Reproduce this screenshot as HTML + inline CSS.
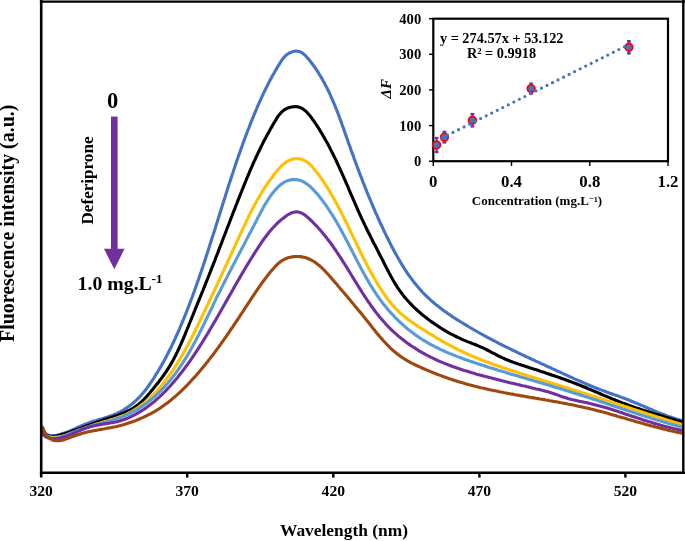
<!DOCTYPE html>
<html><head><meta charset="utf-8"><style>
html,body{margin:0;padding:0;background:#fff;}
body{width:685px;height:541px;overflow:hidden;font-family:"Liberation Serif",serif;}
svg{display:block;will-change:transform;}
</style></head><body>
<svg width="685" height="541" viewBox="0 0 685 541">
<defs><clipPath id="pc"><rect x="40" y="0" width="643" height="473"/></clipPath></defs>
<g fill="none" stroke-width="3.1" stroke-linejoin="round" stroke-linecap="round" clip-path="url(#pc)">
<path d="M41.3,426.5 L42.2,428.9 L43.2,431.0 L44.4,432.6 L45.8,433.8 L47.4,434.7 L49.1,435.2 L50.9,435.5 L52.8,435.6 L54.8,435.5 L56.7,435.2 L58.7,434.7 L60.7,434.2 L62.7,433.6 L64.6,433.0 L66.5,432.3 L68.4,431.6 L70.2,430.8 L72.1,430.0 L73.9,429.2 L75.7,428.4 L77.6,427.5 L79.4,426.7 L81.2,425.9 L83.0,425.1 L84.9,424.3 L86.8,423.6 L88.6,422.9 L90.5,422.3 L92.4,421.6 L94.3,421.0 L96.3,420.5 L98.2,419.9 L100.1,419.3 L102.1,418.8 L104.0,418.2 L105.9,417.6 L107.8,417.0 L109.7,416.3 L111.6,415.6 L113.4,414.9 L115.3,414.1 L117.1,413.3 L118.9,412.4 L120.6,411.5 L122.4,410.5 L124.1,409.5 L125.8,408.4 L127.4,407.3 L129.0,406.2 L130.6,405.0 L132.2,403.8 L133.7,402.5 L135.2,401.2 L136.7,399.8 L138.1,398.4 L139.5,397.0 L140.9,395.5 L142.2,394.0 L143.5,392.5 L144.7,391.0 L146.0,389.4 L147.2,387.8 L148.3,386.2 L149.5,384.5 L150.6,382.9 L151.8,381.2 L152.9,379.5 L154.0,377.8 L155.0,376.1 L156.1,374.4 L157.2,372.7 L158.2,371.0 L159.2,369.3 L160.2,367.6 L161.2,365.9 L162.2,364.1 L163.2,362.4 L164.2,360.6 L165.1,358.9 L166.1,357.1 L167.0,355.3 L167.9,353.6 L168.8,351.8 L169.7,350.0 L170.6,348.2 L171.5,346.4 L172.3,344.6 L173.2,342.8 L174.0,341.0 L174.9,339.2 L175.7,337.4 L176.5,335.5 L177.4,333.7 L178.2,331.9 L179.0,330.1 L179.8,328.2 L180.5,326.4 L181.3,324.5 L182.1,322.7 L182.8,320.9 L183.6,319.0 L184.4,317.2 L185.1,315.3 L185.9,313.5 L186.6,311.6 L187.3,309.7 L188.0,307.9 L188.8,306.0 L189.5,304.1 L190.2,302.3 L190.9,300.4 L191.6,298.5 L192.3,296.7 L193.0,294.8 L193.7,292.9 L194.4,291.0 L195.0,289.2 L195.7,287.3 L196.4,285.4 L197.0,283.5 L197.7,281.6 L198.4,279.7 L199.0,277.8 L199.7,275.9 L200.3,274.1 L201.0,272.2 L201.6,270.3 L202.2,268.4 L202.9,266.5 L203.5,264.6 L204.1,262.7 L204.8,260.8 L205.4,258.9 L206.0,257.0 L206.6,255.1 L207.3,253.2 L207.9,251.3 L208.5,249.4 L209.1,247.4 L209.7,245.5 L210.3,243.6 L210.9,241.7 L211.5,239.8 L212.1,237.9 L212.7,236.0 L213.4,234.1 L214.0,232.2 L214.6,230.3 L215.2,228.4 L215.8,226.4 L216.4,224.5 L217.0,222.6 L217.6,220.7 L218.2,218.8 L218.8,216.9 L219.4,215.0 L220.0,213.1 L220.6,211.1 L221.2,209.2 L221.8,207.3 L222.4,205.4 L223.0,203.5 L223.6,201.6 L224.2,199.7 L224.8,197.8 L225.4,195.9 L226.0,194.0 L226.6,192.0 L227.2,190.1 L227.8,188.2 L228.4,186.3 L229.0,184.4 L229.6,182.5 L230.3,180.6 L230.9,178.7 L231.5,176.8 L232.1,174.9 L232.8,173.0 L233.4,171.1 L234.0,169.2 L234.7,167.3 L235.3,165.4 L235.9,163.5 L236.6,161.6 L237.2,159.7 L237.9,157.8 L238.5,155.9 L239.2,154.1 L239.9,152.2 L240.5,150.3 L241.2,148.4 L241.9,146.5 L242.6,144.6 L243.2,142.8 L243.9,140.9 L244.6,139.0 L245.3,137.1 L246.0,135.3 L246.7,133.4 L247.4,131.5 L248.1,129.7 L248.9,127.8 L249.6,125.9 L250.3,124.1 L251.0,122.2 L251.8,120.4 L252.5,118.5 L253.3,116.7 L254.0,114.8 L254.8,113.0 L255.6,111.1 L256.4,109.3 L257.1,107.4 L257.9,105.6 L258.7,103.8 L259.6,101.9 L260.4,100.1 L261.2,98.3 L262.0,96.5 L262.9,94.7 L263.7,92.9 L264.6,91.1 L265.5,89.3 L266.4,87.5 L267.3,85.7 L268.2,83.9 L269.1,82.1 L270.0,80.3 L271.0,78.6 L271.9,76.8 L272.9,75.0 L273.9,73.3 L274.9,71.5 L275.9,69.8 L276.9,68.1 L277.9,66.3 L279.0,64.6 L280.1,62.9 L281.1,61.2 L282.3,59.5 L283.5,57.9 L284.9,56.4 L286.4,55.0 L288.1,53.8 L290.0,52.7 L292.0,51.9 L294.0,51.3 L296.0,51.1 L297.8,51.2 L299.6,51.6 L301.3,52.4 L302.8,53.4 L304.3,54.6 L305.8,55.9 L307.1,57.4 L308.4,59.0 L309.7,60.6 L311.0,62.2 L312.2,63.8 L313.4,65.4 L314.6,67.1 L315.7,68.7 L316.9,70.4 L318.0,72.1 L319.0,73.8 L320.1,75.5 L321.1,77.2 L322.1,78.9 L323.1,80.7 L324.1,82.4 L325.0,84.2 L325.9,86.0 L326.9,87.7 L327.7,89.5 L328.6,91.3 L329.5,93.1 L330.3,95.0 L331.1,96.8 L331.9,98.6 L332.7,100.4 L333.5,102.3 L334.3,104.1 L335.0,106.0 L335.8,107.8 L336.5,109.7 L337.3,111.6 L338.0,113.4 L338.7,115.3 L339.4,117.2 L340.1,119.1 L340.8,120.9 L341.5,122.8 L342.1,124.7 L342.8,126.6 L343.5,128.5 L344.1,130.4 L344.8,132.3 L345.5,134.2 L346.1,136.1 L346.8,138.0 L347.5,139.8 L348.1,141.7 L348.8,143.6 L349.5,145.5 L350.2,147.4 L350.8,149.3 L351.5,151.2 L352.2,153.1 L352.9,154.9 L353.6,156.8 L354.2,158.7 L354.9,160.6 L355.6,162.5 L356.3,164.3 L357.0,166.2 L357.7,168.1 L358.4,170.0 L359.1,171.8 L359.8,173.7 L360.5,175.6 L361.3,177.4 L362.0,179.3 L362.7,181.2 L363.4,183.0 L364.2,184.9 L364.9,186.7 L365.6,188.6 L366.4,190.5 L367.1,192.3 L367.9,194.2 L368.6,196.0 L369.4,197.9 L370.2,199.7 L370.9,201.5 L371.7,203.4 L372.5,205.2 L373.3,207.1 L374.1,208.9 L374.8,210.7 L375.6,212.6 L376.5,214.4 L377.3,216.2 L378.1,218.0 L378.9,219.9 L379.7,221.7 L380.6,223.5 L381.4,225.3 L382.3,227.1 L383.1,228.9 L384.0,230.8 L384.8,232.6 L385.7,234.4 L386.6,236.2 L387.5,238.0 L388.4,239.8 L389.3,241.6 L390.2,243.4 L391.1,245.2 L392.0,246.9 L393.0,248.7 L393.9,250.5 L394.8,252.3 L395.8,254.0 L396.8,255.8 L397.8,257.5 L398.8,259.3 L399.8,261.0 L400.8,262.7 L401.8,264.4 L402.9,266.1 L403.9,267.8 L405.0,269.5 L406.1,271.2 L407.2,272.9 L408.3,274.5 L409.5,276.1 L410.6,277.7 L411.8,279.3 L413.0,280.9 L414.2,282.5 L415.5,284.1 L416.7,285.6 L418.0,287.1 L419.3,288.6 L420.6,290.1 L421.9,291.6 L423.3,293.0 L424.7,294.4 L426.1,295.8 L427.5,297.2 L429.0,298.6 L430.4,299.9 L431.9,301.2 L433.5,302.5 L435.0,303.8 L436.5,305.1 L438.1,306.3 L439.7,307.6 L441.3,308.8 L442.9,310.0 L444.5,311.2 L446.2,312.3 L447.8,313.5 L449.5,314.6 L451.2,315.8 L452.8,316.9 L454.5,318.0 L456.2,319.1 L457.9,320.2 L459.6,321.2 L461.3,322.3 L463.1,323.4 L464.8,324.4 L466.5,325.4 L468.2,326.5 L470.0,327.5 L471.7,328.5 L473.4,329.5 L475.2,330.5 L476.9,331.5 L478.6,332.5 L480.4,333.5 L482.1,334.4 L483.9,335.4 L485.7,336.3 L487.4,337.3 L489.2,338.2 L490.9,339.2 L492.7,340.1 L494.5,341.0 L496.2,341.9 L498.0,342.9 L499.8,343.8 L501.6,344.7 L503.4,345.6 L505.1,346.5 L506.9,347.3 L508.7,348.2 L510.5,349.1 L512.3,350.0 L514.1,350.8 L515.9,351.7 L517.7,352.6 L519.5,353.4 L521.3,354.3 L523.1,355.2 L524.9,356.0 L526.7,356.9 L528.5,357.7 L530.3,358.5 L532.1,359.4 L533.9,360.2 L535.7,361.1 L537.6,361.9 L539.4,362.7 L541.2,363.6 L543.0,364.4 L544.8,365.2 L546.6,366.1 L548.4,366.9 L550.3,367.7 L552.1,368.6 L553.9,369.4 L555.7,370.2 L557.5,371.1 L559.4,371.9 L561.2,372.7 L563.0,373.6 L564.8,374.4 L566.6,375.2 L568.5,376.1 L570.3,376.9 L572.1,377.7 L573.9,378.6 L575.8,379.4 L577.6,380.2 L579.4,381.0 L581.3,381.8 L583.1,382.6 L584.9,383.4 L586.8,384.2 L588.6,385.0 L590.5,385.8 L592.3,386.5 L594.2,387.3 L596.0,388.0 L597.9,388.7 L599.8,389.4 L601.6,390.1 L603.5,390.8 L605.4,391.5 L607.3,392.2 L609.1,392.9 L611.0,393.5 L612.9,394.2 L614.8,394.9 L616.7,395.5 L618.6,396.2 L620.4,396.9 L622.3,397.6 L624.2,398.3 L626.0,399.0 L627.9,399.7 L629.8,400.5 L631.6,401.2 L633.5,402.0 L635.3,402.7 L637.1,403.5 L639.0,404.3 L640.8,405.1 L642.7,405.9 L644.5,406.7 L646.3,407.5 L648.2,408.3 L650.0,409.0 L651.9,409.8 L653.7,410.6 L655.6,411.4 L657.4,412.1 L659.3,412.9 L661.1,413.6 L663.0,414.3 L664.9,415.0 L666.8,415.7 L668.6,416.4 L670.5,417.0 L672.4,417.7 L674.3,418.3 L676.3,418.9 L678.2,419.4 L680.1,420.0 L682.1,420.5 L684.0,421.0" stroke="#4472C4"/>
<path d="M41.3,427.3 L42.1,429.7 L43.2,431.8 L44.4,433.5 L45.8,434.7 L47.4,435.7 L49.1,436.3 L50.9,436.5 L52.8,436.6 L54.7,436.3 L56.6,436.0 L58.6,435.5 L60.5,434.9 L62.5,434.3 L64.4,433.8 L66.4,433.2 L68.3,432.5 L70.2,431.9 L72.1,431.2 L74.0,430.6 L75.8,429.9 L77.7,429.2 L79.6,428.6 L81.5,427.9 L83.3,427.2 L85.2,426.5 L87.1,425.8 L88.9,425.1 L90.8,424.4 L92.7,423.8 L94.6,423.1 L96.4,422.4 L98.3,421.8 L100.2,421.1 L102.1,420.5 L104.1,419.8 L106.0,419.2 L107.9,418.6 L109.8,418.0 L111.7,417.3 L113.6,416.7 L115.5,416.0 L117.4,415.4 L119.3,414.7 L121.2,413.9 L123.0,413.2 L124.8,412.4 L126.6,411.6 L128.4,410.7 L130.2,409.8 L131.9,408.8 L133.6,407.8 L135.2,406.7 L136.8,405.6 L138.4,404.4 L139.9,403.1 L141.4,401.8 L142.9,400.4 L144.3,399.0 L145.7,397.5 L147.1,396.0 L148.4,394.4 L149.7,392.9 L151.1,391.3 L152.4,389.7 L153.6,388.2 L154.9,386.6 L156.2,385.0 L157.4,383.5 L158.7,381.9 L159.9,380.3 L161.1,378.7 L162.3,377.1 L163.4,375.5 L164.6,373.9 L165.7,372.3 L166.8,370.6 L167.9,369.0 L168.9,367.3 L170.0,365.6 L171.0,363.9 L171.9,362.2 L172.9,360.5 L173.9,358.7 L174.8,356.9 L175.7,355.2 L176.6,353.4 L177.5,351.6 L178.3,349.8 L179.2,348.0 L180.0,346.2 L180.8,344.3 L181.6,342.5 L182.4,340.7 L183.2,338.8 L184.0,337.0 L184.8,335.1 L185.5,333.2 L186.3,331.4 L187.1,329.5 L187.8,327.6 L188.6,325.8 L189.3,323.9 L190.1,322.0 L190.8,320.2 L191.6,318.3 L192.3,316.5 L193.1,314.6 L193.8,312.7 L194.6,310.9 L195.3,309.0 L196.1,307.2 L196.8,305.3 L197.6,303.5 L198.3,301.6 L199.1,299.8 L199.9,297.9 L200.6,296.1 L201.4,294.2 L202.1,292.4 L202.9,290.5 L203.6,288.7 L204.4,286.8 L205.1,284.9 L205.8,283.1 L206.6,281.2 L207.3,279.4 L208.1,277.5 L208.8,275.7 L209.5,273.8 L210.3,271.9 L211.0,270.1 L211.7,268.2 L212.5,266.4 L213.2,264.5 L213.9,262.6 L214.7,260.8 L215.4,258.9 L216.1,257.0 L216.8,255.2 L217.6,253.3 L218.3,251.4 L219.0,249.6 L219.7,247.7 L220.4,245.8 L221.2,243.9 L221.9,242.1 L222.6,240.2 L223.3,238.3 L224.0,236.5 L224.8,234.6 L225.5,232.7 L226.2,230.8 L226.9,229.0 L227.6,227.1 L228.4,225.2 L229.1,223.4 L229.8,221.5 L230.5,219.6 L231.2,217.7 L232.0,215.9 L232.7,214.0 L233.4,212.1 L234.1,210.3 L234.9,208.4 L235.6,206.5 L236.3,204.7 L237.1,202.8 L237.8,200.9 L238.5,199.1 L239.3,197.2 L240.0,195.4 L240.7,193.5 L241.5,191.6 L242.2,189.8 L243.0,187.9 L243.7,186.1 L244.5,184.2 L245.2,182.4 L246.0,180.5 L246.7,178.7 L247.5,176.8 L248.3,175.0 L249.1,173.2 L249.8,171.3 L250.6,169.5 L251.4,167.7 L252.2,165.8 L253.0,164.0 L253.8,162.2 L254.7,160.3 L255.5,158.5 L256.3,156.7 L257.2,154.9 L258.0,153.1 L258.9,151.3 L259.8,149.5 L260.6,147.7 L261.5,145.9 L262.4,144.1 L263.3,142.3 L264.2,140.5 L265.2,138.7 L266.1,137.0 L267.0,135.2 L268.0,133.4 L269.0,131.7 L270.0,129.9 L271.0,128.1 L272.0,126.4 L273.0,124.6 L274.0,122.9 L275.1,121.2 L276.1,119.4 L277.2,117.7 L278.3,116.0 L279.5,114.4 L280.8,112.9 L282.2,111.5 L283.8,110.2 L285.5,109.1 L287.4,108.2 L289.4,107.5 L291.5,107.0 L293.6,106.7 L295.6,106.6 L297.5,106.8 L299.4,107.3 L301.1,107.9 L302.7,108.8 L304.2,109.9 L305.7,111.1 L307.1,112.4 L308.4,113.9 L309.7,115.4 L310.9,117.0 L312.1,118.7 L313.3,120.3 L314.5,122.0 L315.6,123.7 L316.8,125.4 L317.9,127.1 L319.0,128.8 L320.0,130.6 L321.1,132.3 L322.1,134.0 L323.1,135.8 L324.2,137.5 L325.1,139.3 L326.1,141.0 L327.1,142.8 L328.1,144.6 L329.0,146.3 L329.9,148.1 L330.8,149.9 L331.8,151.7 L332.7,153.5 L333.5,155.3 L334.4,157.1 L335.3,158.9 L336.2,160.7 L337.0,162.5 L337.8,164.3 L338.7,166.1 L339.5,167.9 L340.3,169.8 L341.2,171.6 L342.0,173.4 L342.8,175.2 L343.6,177.1 L344.4,178.9 L345.2,180.7 L346.0,182.6 L346.8,184.4 L347.6,186.2 L348.4,188.1 L349.1,189.9 L349.9,191.7 L350.7,193.6 L351.5,195.4 L352.3,197.2 L353.1,199.1 L353.9,200.9 L354.7,202.7 L355.5,204.6 L356.3,206.4 L357.1,208.2 L357.9,210.1 L358.7,211.9 L359.5,213.7 L360.4,215.5 L361.2,217.3 L362.0,219.1 L362.9,220.9 L363.8,222.8 L364.6,224.6 L365.5,226.4 L366.4,228.2 L367.2,230.0 L368.1,231.7 L369.0,233.5 L369.9,235.3 L370.8,237.1 L371.7,238.9 L372.6,240.7 L373.5,242.5 L374.4,244.3 L375.4,246.1 L376.3,247.8 L377.2,249.6 L378.1,251.4 L379.0,253.2 L379.9,255.0 L380.8,256.8 L381.8,258.6 L382.7,260.4 L383.6,262.2 L384.5,264.0 L385.4,265.8 L386.3,267.6 L387.2,269.4 L388.2,271.1 L389.1,272.9 L390.1,274.7 L391.0,276.5 L392.0,278.2 L393.0,280.0 L394.0,281.7 L395.0,283.4 L396.1,285.1 L397.1,286.8 L398.2,288.5 L399.4,290.1 L400.5,291.7 L401.7,293.3 L402.9,294.9 L404.1,296.5 L405.4,298.0 L406.7,299.5 L408.0,301.0 L409.4,302.5 L410.7,303.9 L412.1,305.4 L413.5,306.8 L415.0,308.2 L416.4,309.5 L417.9,310.9 L419.4,312.2 L420.9,313.5 L422.4,314.8 L424.0,316.1 L425.6,317.3 L427.2,318.6 L428.8,319.8 L430.4,321.0 L432.0,322.1 L433.7,323.3 L435.3,324.4 L437.0,325.5 L438.7,326.6 L440.4,327.7 L442.1,328.8 L443.8,329.8 L445.5,330.8 L447.2,331.8 L449.0,332.8 L450.7,333.8 L452.5,334.7 L454.2,335.6 L456.0,336.5 L457.8,337.4 L459.6,338.2 L461.4,339.1 L463.2,339.9 L465.1,340.6 L466.9,341.4 L468.8,342.1 L470.7,342.8 L472.5,343.6 L474.4,344.3 L476.3,345.0 L478.1,345.8 L480.0,346.6 L481.8,347.4 L483.6,348.2 L485.4,349.1 L487.2,350.0 L489.0,350.9 L490.7,351.9 L492.5,352.8 L494.3,353.7 L496.1,354.7 L497.8,355.6 L499.6,356.5 L501.4,357.4 L503.2,358.2 L505.1,359.0 L506.9,359.8 L508.7,360.5 L510.6,361.3 L512.5,362.0 L514.3,362.6 L516.2,363.3 L518.1,363.9 L520.0,364.6 L521.9,365.2 L523.8,365.8 L525.7,366.4 L527.6,367.0 L529.5,367.7 L531.4,368.3 L533.3,368.9 L535.2,369.5 L537.1,370.1 L539.0,370.7 L540.9,371.4 L542.8,372.0 L544.7,372.6 L546.6,373.3 L548.5,373.9 L550.4,374.5 L552.3,375.2 L554.2,375.8 L556.1,376.5 L558.0,377.1 L559.9,377.8 L561.8,378.5 L563.7,379.1 L565.5,379.8 L567.4,380.5 L569.3,381.2 L571.2,381.9 L573.0,382.6 L574.9,383.3 L576.8,384.0 L578.6,384.8 L580.5,385.5 L582.4,386.3 L584.2,387.0 L586.1,387.8 L587.9,388.6 L589.7,389.3 L591.6,390.1 L593.4,390.9 L595.3,391.7 L597.1,392.4 L599.0,393.2 L600.8,394.0 L602.6,394.8 L604.5,395.6 L606.3,396.3 L608.2,397.1 L610.0,397.9 L611.9,398.7 L613.7,399.4 L615.6,400.2 L617.4,400.9 L619.3,401.7 L621.2,402.4 L623.0,403.1 L624.9,403.8 L626.8,404.5 L628.6,405.2 L630.5,405.9 L632.4,406.6 L634.3,407.2 L636.2,407.9 L638.1,408.5 L640.0,409.1 L641.9,409.8 L643.8,410.4 L645.7,411.0 L647.6,411.6 L649.5,412.2 L651.5,412.8 L653.4,413.4 L655.3,414.0 L657.2,414.5 L659.1,415.1 L661.0,415.7 L663.0,416.3 L664.9,416.9 L666.8,417.4 L668.7,418.0 L670.6,418.6 L672.5,419.2 L674.5,419.8 L676.4,420.4 L678.3,421.0 L680.2,421.6 L682.1,422.2 L684.0,422.8" stroke="#000000"/>
<path d="M41.3,428.0 L41.9,430.5 L42.9,432.6 L44.2,434.1 L45.7,435.3 L47.4,436.1 L49.2,436.7 L51.0,437.0 L53.0,437.2 L54.9,437.2 L56.8,437.1 L58.7,436.9 L60.6,436.6 L62.5,436.2 L64.4,435.8 L66.2,435.3 L68.1,434.7 L70.0,434.0 L71.9,433.4 L73.8,432.6 L75.6,431.9 L77.5,431.1 L79.4,430.3 L81.3,429.6 L83.2,428.8 L85.1,428.0 L87.0,427.3 L88.9,426.6 L90.8,425.9 L92.8,425.3 L94.7,424.7 L96.6,424.1 L98.5,423.5 L100.5,422.9 L102.4,422.3 L104.3,421.8 L106.3,421.2 L108.2,420.7 L110.1,420.1 L112.0,419.5 L113.9,418.9 L115.8,418.3 L117.6,417.7 L119.5,417.0 L121.3,416.3 L123.2,415.6 L125.0,414.9 L126.8,414.1 L128.5,413.2 L130.3,412.3 L132.0,411.4 L133.7,410.4 L135.4,409.4 L137.0,408.3 L138.7,407.2 L140.3,406.0 L141.9,404.8 L143.5,403.6 L145.0,402.3 L146.5,401.0 L148.1,399.7 L149.5,398.3 L151.0,396.9 L152.5,395.5 L153.9,394.1 L155.3,392.6 L156.7,391.1 L158.0,389.6 L159.4,388.0 L160.7,386.5 L162.0,384.9 L163.3,383.3 L164.5,381.7 L165.8,380.1 L167.0,378.5 L168.2,376.9 L169.4,375.3 L170.5,373.6 L171.7,372.0 L172.8,370.3 L173.9,368.7 L175.0,367.0 L176.1,365.3 L177.2,363.6 L178.2,361.9 L179.2,360.2 L180.3,358.5 L181.3,356.8 L182.3,355.1 L183.3,353.4 L184.2,351.6 L185.2,349.9 L186.1,348.2 L187.1,346.4 L188.0,344.7 L188.9,342.9 L189.9,341.2 L190.8,339.4 L191.7,337.6 L192.6,335.9 L193.5,334.1 L194.4,332.3 L195.2,330.5 L196.1,328.8 L197.0,327.0 L197.9,325.2 L198.7,323.4 L199.6,321.6 L200.5,319.8 L201.3,318.0 L202.2,316.2 L203.0,314.4 L203.9,312.6 L204.8,310.8 L205.6,309.0 L206.5,307.2 L207.3,305.4 L208.2,303.6 L209.1,301.8 L209.9,300.0 L210.8,298.2 L211.6,296.3 L212.5,294.5 L213.3,292.7 L214.2,290.9 L215.0,289.1 L215.9,287.3 L216.7,285.4 L217.6,283.6 L218.4,281.8 L219.3,280.0 L220.1,278.2 L221.0,276.3 L221.8,274.5 L222.6,272.7 L223.5,270.9 L224.3,269.0 L225.2,267.2 L226.0,265.4 L226.9,263.6 L227.7,261.7 L228.5,259.9 L229.4,258.1 L230.2,256.3 L231.1,254.4 L231.9,252.6 L232.7,250.8 L233.6,249.0 L234.4,247.1 L235.2,245.3 L236.1,243.5 L236.9,241.7 L237.7,239.9 L238.6,238.0 L239.4,236.2 L240.2,234.4 L241.1,232.6 L241.9,230.8 L242.7,228.9 L243.6,227.1 L244.4,225.3 L245.3,223.5 L246.1,221.7 L247.0,219.9 L247.9,218.1 L248.7,216.3 L249.6,214.5 L250.5,212.8 L251.4,211.0 L252.3,209.2 L253.3,207.5 L254.2,205.7 L255.1,203.9 L256.1,202.2 L257.0,200.4 L258.0,198.7 L259.0,197.0 L260.0,195.3 L261.1,193.6 L262.1,191.9 L263.2,190.2 L264.2,188.5 L265.3,186.8 L266.4,185.1 L267.6,183.5 L268.7,181.8 L269.9,180.2 L271.1,178.6 L272.3,177.0 L273.5,175.3 L274.8,173.8 L276.0,172.2 L277.3,170.6 L278.7,169.0 L280.0,167.5 L281.4,166.1 L282.9,164.7 L284.4,163.4 L286.0,162.2 L287.6,161.2 L289.3,160.3 L291.2,159.6 L293.1,159.1 L295.1,158.8 L297.1,158.7 L299.1,158.8 L301.1,159.2 L303.0,159.8 L304.8,160.6 L306.5,161.5 L308.1,162.7 L309.6,164.0 L311.0,165.4 L312.4,166.9 L313.7,168.4 L315.0,170.0 L316.2,171.6 L317.5,173.2 L318.7,174.8 L319.9,176.4 L321.0,178.1 L322.2,179.7 L323.3,181.4 L324.4,183.1 L325.5,184.7 L326.6,186.4 L327.7,188.1 L328.7,189.8 L329.7,191.6 L330.8,193.3 L331.8,195.0 L332.8,196.7 L333.7,198.5 L334.7,200.2 L335.7,202.0 L336.6,203.7 L337.6,205.5 L338.5,207.3 L339.4,209.0 L340.4,210.8 L341.3,212.6 L342.2,214.4 L343.1,216.2 L344.0,217.9 L344.9,219.7 L345.7,221.5 L346.6,223.3 L347.5,225.1 L348.4,226.9 L349.2,228.7 L350.1,230.5 L351.0,232.3 L351.8,234.1 L352.7,235.9 L353.6,237.7 L354.4,239.5 L355.3,241.3 L356.2,243.1 L357.0,244.9 L357.9,246.7 L358.8,248.5 L359.7,250.3 L360.5,252.1 L361.4,253.9 L362.3,255.7 L363.2,257.5 L364.1,259.2 L365.0,261.0 L365.9,262.8 L366.9,264.6 L367.8,266.4 L368.7,268.1 L369.7,269.9 L370.6,271.7 L371.6,273.4 L372.6,275.2 L373.5,276.9 L374.5,278.7 L375.5,280.4 L376.6,282.2 L377.6,283.9 L378.6,285.6 L379.7,287.3 L380.8,289.0 L381.9,290.7 L383.0,292.4 L384.1,294.1 L385.2,295.7 L386.4,297.3 L387.6,299.0 L388.8,300.5 L390.1,302.1 L391.3,303.6 L392.6,305.2 L393.9,306.6 L395.3,308.1 L396.7,309.5 L398.1,310.9 L399.5,312.3 L401.0,313.6 L402.5,314.9 L404.0,316.2 L405.5,317.5 L407.1,318.7 L408.7,319.9 L410.3,321.0 L412.0,322.2 L413.6,323.3 L415.3,324.5 L417.0,325.6 L418.6,326.7 L420.3,327.8 L422.0,328.8 L423.7,329.9 L425.4,331.0 L427.1,332.1 L428.8,333.1 L430.5,334.2 L432.3,335.2 L434.0,336.2 L435.7,337.3 L437.4,338.3 L439.1,339.3 L440.9,340.3 L442.6,341.3 L444.4,342.3 L446.1,343.3 L447.9,344.2 L449.6,345.2 L451.4,346.1 L453.1,347.1 L454.9,348.0 L456.7,348.9 L458.5,349.8 L460.3,350.6 L462.1,351.5 L463.9,352.4 L465.7,353.2 L467.5,354.0 L469.3,354.8 L471.2,355.6 L473.0,356.4 L474.9,357.2 L476.7,357.9 L478.6,358.7 L480.4,359.4 L482.3,360.2 L484.1,360.9 L486.0,361.6 L487.9,362.3 L489.8,363.0 L491.6,363.7 L493.5,364.4 L495.4,365.0 L497.3,365.7 L499.2,366.4 L501.1,367.0 L503.0,367.7 L504.9,368.3 L506.8,368.9 L508.7,369.6 L510.6,370.2 L512.5,370.8 L514.4,371.4 L516.3,372.0 L518.2,372.6 L520.1,373.2 L522.0,373.9 L523.9,374.5 L525.8,375.1 L527.7,375.7 L529.7,376.3 L531.6,376.9 L533.5,377.4 L535.4,378.0 L537.3,378.6 L539.2,379.2 L541.1,379.8 L543.0,380.4 L544.9,381.0 L546.8,381.6 L548.7,382.2 L550.6,382.8 L552.5,383.3 L554.4,383.9 L556.3,384.5 L558.3,385.1 L560.2,385.7 L562.1,386.3 L564.0,386.9 L565.9,387.5 L567.8,388.1 L569.7,388.7 L571.6,389.3 L573.5,389.9 L575.4,390.5 L577.3,391.1 L579.2,391.7 L581.1,392.3 L583.0,392.9 L584.9,393.5 L586.8,394.1 L588.7,394.7 L590.6,395.3 L592.5,395.9 L594.4,396.5 L596.3,397.2 L598.2,397.8 L600.1,398.4 L602.0,399.0 L603.9,399.6 L605.8,400.2 L607.7,400.9 L609.6,401.5 L611.5,402.1 L613.4,402.7 L615.3,403.4 L617.2,404.0 L619.2,404.6 L621.1,405.2 L623.0,405.8 L624.9,406.5 L626.8,407.1 L628.7,407.7 L630.6,408.3 L632.5,408.9 L634.4,409.6 L636.3,410.2 L638.2,410.8 L640.1,411.4 L642.0,412.0 L643.9,412.7 L645.8,413.3 L647.7,413.9 L649.6,414.5 L651.5,415.1 L653.4,415.7 L655.3,416.3 L657.2,416.9 L659.2,417.5 L661.1,418.1 L663.0,418.7 L664.9,419.3 L666.8,419.9 L668.7,420.5 L670.6,421.1 L672.5,421.7 L674.4,422.3 L676.4,422.8 L678.3,423.4 L680.2,424.0 L682.1,424.6 L684.0,425.1" stroke="#FFC000"/>
<path d="M41.3,428.5 L42.0,430.6 L43.0,432.4 L44.2,434.0 L45.7,435.4 L47.3,436.5 L49.1,437.4 L51.0,438.0 L52.9,438.3 L54.8,438.3 L56.7,438.1 L58.6,437.7 L60.6,437.2 L62.5,436.5 L64.4,435.7 L66.3,434.9 L68.2,434.1 L70.1,433.3 L72.0,432.6 L73.9,431.9 L75.7,431.2 L77.6,430.5 L79.5,429.8 L81.4,429.2 L83.2,428.6 L85.1,428.0 L87.0,427.4 L88.9,426.8 L90.8,426.2 L92.7,425.7 L94.6,425.2 L96.6,424.6 L98.5,424.1 L100.4,423.6 L102.4,423.0 L104.3,422.5 L106.2,422.0 L108.2,421.4 L110.1,420.8 L112.0,420.3 L113.9,419.7 L115.8,419.1 L117.7,418.4 L119.6,417.8 L121.4,417.1 L123.3,416.4 L125.1,415.6 L127.0,414.8 L128.8,414.0 L130.6,413.1 L132.3,412.2 L134.1,411.3 L135.8,410.3 L137.6,409.3 L139.3,408.3 L140.9,407.2 L142.6,406.1 L144.2,404.9 L145.9,403.8 L147.5,402.5 L149.0,401.3 L150.6,400.0 L152.1,398.7 L153.7,397.4 L155.2,396.1 L156.7,394.7 L158.1,393.3 L159.6,391.9 L161.0,390.5 L162.4,389.0 L163.8,387.6 L165.1,386.1 L166.5,384.6 L167.8,383.0 L169.1,381.5 L170.4,380.0 L171.6,378.4 L172.9,376.8 L174.1,375.2 L175.3,373.6 L176.5,372.0 L177.6,370.4 L178.8,368.8 L179.9,367.1 L181.0,365.5 L182.1,363.8 L183.2,362.1 L184.3,360.5 L185.3,358.8 L186.4,357.1 L187.4,355.4 L188.4,353.7 L189.4,351.9 L190.4,350.2 L191.4,348.5 L192.3,346.7 L193.3,345.0 L194.2,343.2 L195.2,341.5 L196.1,339.7 L197.0,337.9 L198.0,336.1 L198.9,334.4 L199.8,332.6 L200.7,330.8 L201.5,329.0 L202.4,327.2 L203.3,325.4 L204.2,323.6 L205.1,321.8 L205.9,320.0 L206.8,318.2 L207.7,316.4 L208.5,314.6 L209.4,312.8 L210.3,311.0 L211.1,309.2 L212.0,307.4 L212.9,305.5 L213.7,303.7 L214.6,301.9 L215.5,300.1 L216.3,298.3 L217.2,296.5 L218.1,294.7 L219.0,292.9 L219.9,291.2 L220.8,289.4 L221.7,287.6 L222.6,285.8 L223.5,284.0 L224.4,282.2 L225.3,280.4 L226.2,278.7 L227.1,276.9 L228.0,275.1 L228.9,273.3 L229.9,271.5 L230.8,269.8 L231.7,268.0 L232.6,266.2 L233.5,264.4 L234.5,262.7 L235.4,260.9 L236.3,259.1 L237.3,257.3 L238.2,255.6 L239.1,253.8 L240.0,252.0 L241.0,250.3 L241.9,248.5 L242.8,246.7 L243.8,244.9 L244.7,243.2 L245.6,241.4 L246.5,239.6 L247.5,237.8 L248.4,236.1 L249.3,234.3 L250.3,232.5 L251.2,230.7 L252.1,229.0 L253.0,227.2 L254.0,225.4 L254.9,223.6 L255.8,221.9 L256.7,220.1 L257.6,218.3 L258.5,216.5 L259.5,214.7 L260.4,213.0 L261.3,211.2 L262.3,209.4 L263.2,207.7 L264.2,205.9 L265.2,204.2 L266.3,202.5 L267.3,200.8 L268.4,199.1 L269.5,197.5 L270.6,195.8 L271.8,194.2 L273.1,192.6 L274.3,191.1 L275.6,189.6 L277.0,188.1 L278.4,186.7 L279.9,185.3 L281.5,184.1 L283.1,182.9 L284.8,181.9 L286.6,181.1 L288.5,180.4 L290.4,179.9 L292.4,179.6 L294.4,179.5 L296.4,179.6 L298.4,179.9 L300.3,180.4 L302.1,181.1 L303.9,182.0 L305.6,183.1 L307.3,184.2 L308.9,185.4 L310.4,186.8 L311.8,188.1 L313.2,189.6 L314.6,191.1 L316.0,192.6 L317.3,194.1 L318.6,195.6 L319.8,197.2 L321.1,198.8 L322.3,200.4 L323.5,202.0 L324.7,203.6 L325.9,205.2 L327.0,206.8 L328.1,208.5 L329.2,210.2 L330.3,211.8 L331.4,213.5 L332.5,215.2 L333.5,216.9 L334.5,218.6 L335.6,220.3 L336.6,222.0 L337.6,223.7 L338.5,225.5 L339.5,227.2 L340.5,228.9 L341.4,230.7 L342.4,232.4 L343.3,234.2 L344.3,236.0 L345.2,237.7 L346.1,239.5 L347.0,241.2 L348.0,243.0 L348.9,244.8 L349.8,246.6 L350.7,248.4 L351.6,250.1 L352.5,251.9 L353.4,253.7 L354.4,255.5 L355.3,257.3 L356.2,259.1 L357.1,260.8 L358.0,262.6 L359.0,264.4 L359.9,266.2 L360.9,268.0 L361.8,269.7 L362.8,271.5 L363.7,273.3 L364.7,275.0 L365.7,276.8 L366.7,278.6 L367.7,280.3 L368.7,282.0 L369.7,283.8 L370.8,285.5 L371.8,287.2 L372.9,288.9 L374.0,290.6 L375.1,292.3 L376.2,293.9 L377.3,295.6 L378.5,297.2 L379.6,298.9 L380.8,300.5 L382.0,302.1 L383.2,303.7 L384.5,305.2 L385.7,306.8 L387.0,308.3 L388.3,309.9 L389.6,311.4 L390.9,312.9 L392.3,314.3 L393.7,315.8 L395.0,317.2 L396.4,318.7 L397.9,320.1 L399.3,321.5 L400.7,322.8 L402.2,324.2 L403.7,325.5 L405.2,326.8 L406.7,328.1 L408.2,329.4 L409.8,330.6 L411.4,331.8 L413.0,333.0 L414.6,334.2 L416.2,335.4 L417.8,336.5 L419.4,337.6 L421.1,338.7 L422.8,339.8 L424.5,340.8 L426.2,341.8 L427.9,342.8 L429.6,343.8 L431.4,344.8 L433.2,345.7 L434.9,346.6 L436.7,347.5 L438.5,348.4 L440.3,349.3 L442.1,350.1 L444.0,351.0 L445.8,351.8 L447.6,352.6 L449.5,353.4 L451.4,354.1 L453.2,354.9 L455.1,355.6 L457.0,356.4 L458.8,357.1 L460.7,357.8 L462.6,358.5 L464.5,359.2 L466.4,359.9 L468.3,360.5 L470.2,361.2 L472.1,361.8 L474.0,362.5 L475.9,363.1 L477.9,363.8 L479.8,364.4 L481.7,365.0 L483.6,365.6 L485.5,366.2 L487.4,366.9 L489.3,367.5 L491.2,368.1 L493.1,368.6 L495.0,369.2 L496.9,369.8 L498.9,370.4 L500.8,371.0 L502.7,371.6 L504.6,372.1 L506.5,372.7 L508.4,373.3 L510.3,373.9 L512.2,374.4 L514.1,375.0 L516.1,375.5 L518.0,376.1 L519.9,376.7 L521.8,377.2 L523.7,377.8 L525.6,378.3 L527.5,378.9 L529.4,379.5 L531.4,380.0 L533.3,380.6 L535.2,381.2 L537.1,381.7 L539.0,382.3 L540.9,382.8 L542.8,383.4 L544.8,384.0 L546.7,384.6 L548.6,385.1 L550.5,385.7 L552.4,386.3 L554.3,386.9 L556.2,387.4 L558.1,388.0 L560.1,388.6 L562.0,389.2 L563.9,389.8 L565.8,390.4 L567.7,391.0 L569.6,391.6 L571.5,392.2 L573.4,392.8 L575.3,393.4 L577.3,394.0 L579.2,394.6 L581.1,395.2 L583.0,395.8 L584.9,396.4 L586.8,397.0 L588.7,397.6 L590.6,398.3 L592.5,398.9 L594.4,399.5 L596.3,400.1 L598.2,400.8 L600.1,401.4 L602.0,402.0 L603.9,402.6 L605.8,403.3 L607.7,403.9 L609.6,404.5 L611.4,405.2 L613.3,405.8 L615.2,406.4 L617.1,407.1 L619.0,407.7 L620.9,408.3 L622.8,409.0 L624.7,409.6 L626.6,410.2 L628.5,410.9 L630.4,411.5 L632.3,412.1 L634.2,412.7 L636.1,413.4 L638.0,414.0 L639.9,414.6 L641.8,415.2 L643.7,415.8 L645.6,416.4 L647.5,417.0 L649.4,417.6 L651.3,418.2 L653.2,418.8 L655.1,419.4 L657.1,420.0 L659.0,420.6 L660.9,421.1 L662.8,421.7 L664.7,422.3 L666.7,422.8 L668.6,423.4 L670.5,423.9 L672.4,424.5 L674.4,425.0 L676.3,425.6 L678.2,426.1 L680.2,426.6 L682.1,427.1 L684.1,427.6" stroke="#5B9BD5"/>
<path d="M41.1,429.5 L41.7,431.9 L42.7,433.8 L44.0,435.4 L45.4,436.6 L47.0,437.5 L48.8,438.1 L50.6,438.5 L52.5,438.7 L54.4,438.7 L56.3,438.6 L58.2,438.4 L60.1,438.0 L62.0,437.5 L63.9,437.0 L65.8,436.4 L67.7,435.7 L69.6,434.9 L71.5,434.1 L73.4,433.3 L75.4,432.5 L77.3,431.7 L79.2,430.8 L81.1,430.0 L83.0,429.2 L85.0,428.5 L86.9,427.8 L88.8,427.2 L90.8,426.6 L92.7,426.1 L94.7,425.7 L96.6,425.3 L98.6,424.9 L100.5,424.6 L102.5,424.2 L104.4,423.9 L106.3,423.6 L108.3,423.3 L110.2,423.0 L112.2,422.6 L114.1,422.3 L116.0,421.9 L117.9,421.4 L119.8,420.9 L121.7,420.3 L123.6,419.7 L125.5,419.0 L127.4,418.3 L129.2,417.5 L131.1,416.6 L132.9,415.7 L134.7,414.8 L136.4,413.9 L138.2,412.9 L139.9,411.8 L141.6,410.8 L143.3,409.7 L145.0,408.6 L146.6,407.4 L148.2,406.3 L149.8,405.1 L151.4,403.8 L153.0,402.6 L154.5,401.3 L156.0,400.0 L157.5,398.7 L159.0,397.4 L160.4,396.0 L161.9,394.6 L163.3,393.2 L164.7,391.8 L166.1,390.4 L167.5,388.9 L168.8,387.5 L170.2,386.0 L171.5,384.5 L172.8,383.0 L174.1,381.5 L175.4,379.9 L176.7,378.4 L178.0,376.9 L179.2,375.3 L180.5,373.7 L181.7,372.2 L182.9,370.6 L184.1,369.0 L185.3,367.4 L186.5,365.8 L187.7,364.2 L188.8,362.5 L190.0,360.9 L191.1,359.3 L192.3,357.6 L193.4,356.0 L194.5,354.3 L195.6,352.6 L196.7,351.0 L197.8,349.3 L198.9,347.6 L200.0,345.9 L201.1,344.2 L202.1,342.5 L203.2,340.8 L204.2,339.1 L205.3,337.4 L206.3,335.7 L207.4,334.0 L208.4,332.3 L209.4,330.5 L210.4,328.8 L211.4,327.1 L212.5,325.4 L213.5,323.6 L214.5,321.9 L215.5,320.2 L216.5,318.4 L217.5,316.7 L218.5,315.0 L219.5,313.2 L220.5,311.5 L221.4,309.8 L222.4,308.0 L223.4,306.3 L224.4,304.6 L225.4,302.8 L226.4,301.1 L227.4,299.4 L228.3,297.6 L229.3,295.9 L230.3,294.2 L231.3,292.4 L232.3,290.7 L233.3,289.0 L234.2,287.2 L235.2,285.5 L236.2,283.8 L237.2,282.0 L238.2,280.3 L239.2,278.6 L240.2,276.9 L241.2,275.1 L242.2,273.4 L243.3,271.7 L244.3,270.0 L245.3,268.3 L246.3,266.5 L247.3,264.8 L248.4,263.1 L249.4,261.4 L250.5,259.7 L251.5,258.0 L252.6,256.3 L253.6,254.6 L254.7,252.9 L255.8,251.2 L256.9,249.5 L258.0,247.8 L259.1,246.2 L260.2,244.5 L261.3,242.8 L262.4,241.2 L263.6,239.5 L264.8,237.9 L266.0,236.3 L267.2,234.7 L268.4,233.1 L269.7,231.5 L271.0,230.0 L272.3,228.5 L273.7,227.0 L275.1,225.5 L276.5,224.1 L277.9,222.7 L279.4,221.3 L281.0,220.0 L282.5,218.7 L284.2,217.4 L285.8,216.2 L287.5,215.0 L289.3,214.0 L291.1,213.1 L292.9,212.4 L294.7,212.0 L296.5,211.9 L298.3,212.0 L300.0,212.5 L301.7,213.1 L303.3,214.0 L304.9,215.1 L306.5,216.3 L308.0,217.6 L309.5,219.0 L311.0,220.4 L312.5,221.9 L313.9,223.3 L315.4,224.8 L316.8,226.2 L318.1,227.7 L319.5,229.2 L320.8,230.8 L322.1,232.3 L323.4,233.9 L324.7,235.4 L326.0,237.0 L327.2,238.6 L328.4,240.2 L329.6,241.8 L330.8,243.4 L332.0,245.0 L333.2,246.7 L334.3,248.3 L335.5,250.0 L336.6,251.7 L337.7,253.3 L338.8,255.0 L339.9,256.7 L341.0,258.4 L342.1,260.1 L343.2,261.8 L344.3,263.5 L345.3,265.2 L346.4,266.9 L347.5,268.6 L348.5,270.3 L349.6,272.0 L350.6,273.7 L351.7,275.5 L352.7,277.2 L353.8,278.9 L354.8,280.6 L355.9,282.3 L356.9,284.0 L358.0,285.7 L359.0,287.4 L360.1,289.1 L361.2,290.8 L362.2,292.5 L363.3,294.2 L364.4,295.8 L365.5,297.5 L366.6,299.2 L367.7,300.8 L368.8,302.4 L370.0,304.1 L371.1,305.7 L372.3,307.3 L373.5,308.9 L374.6,310.5 L375.8,312.1 L377.0,313.6 L378.3,315.2 L379.5,316.7 L380.8,318.3 L382.1,319.8 L383.4,321.3 L384.7,322.7 L386.0,324.2 L387.4,325.7 L388.7,327.1 L390.1,328.5 L391.6,329.9 L393.0,331.3 L394.5,332.6 L396.0,333.9 L397.5,335.3 L399.0,336.6 L400.5,337.8 L402.1,339.1 L403.7,340.3 L405.3,341.5 L406.9,342.7 L408.6,343.9 L410.2,345.1 L411.9,346.2 L413.6,347.3 L415.3,348.4 L417.0,349.5 L418.7,350.6 L420.5,351.6 L422.2,352.6 L424.0,353.6 L425.8,354.6 L427.5,355.5 L429.3,356.5 L431.1,357.4 L432.9,358.2 L434.7,359.1 L436.6,360.0 L438.4,360.8 L440.2,361.6 L442.1,362.4 L443.9,363.1 L445.7,363.9 L447.6,364.6 L449.4,365.3 L451.3,366.0 L453.2,366.7 L455.0,367.3 L456.9,368.0 L458.8,368.6 L460.7,369.3 L462.6,369.9 L464.5,370.5 L466.4,371.0 L468.3,371.6 L470.2,372.2 L472.1,372.8 L474.0,373.3 L475.9,373.9 L477.8,374.4 L479.8,374.9 L481.7,375.4 L483.6,376.0 L485.5,376.5 L487.5,377.0 L489.4,377.5 L491.4,378.0 L493.3,378.5 L495.2,379.0 L497.2,379.5 L499.1,380.0 L501.1,380.5 L503.0,381.0 L505.0,381.4 L506.9,381.9 L508.9,382.4 L510.8,382.9 L512.8,383.3 L514.8,383.8 L516.7,384.3 L518.7,384.7 L520.6,385.2 L522.6,385.7 L524.5,386.1 L526.5,386.6 L528.4,387.0 L530.4,387.5 L532.3,388.0 L534.2,388.4 L536.2,388.9 L538.1,389.3 L540.1,389.8 L542.0,390.3 L543.9,390.7 L545.8,391.2 L547.8,391.8 L549.7,392.3 L551.6,392.9 L553.4,393.5 L555.3,394.2 L557.2,394.9 L559.1,395.6 L560.9,396.3 L562.8,396.9 L564.7,397.5 L566.6,398.1 L568.5,398.7 L570.4,399.2 L572.4,399.7 L574.3,400.1 L576.3,400.6 L578.2,401.0 L580.2,401.4 L582.1,401.8 L584.1,402.2 L586.1,402.6 L588.0,403.0 L590.0,403.5 L591.9,403.9 L593.9,404.4 L595.8,404.9 L597.7,405.4 L599.7,405.9 L601.6,406.5 L603.5,407.0 L605.4,407.6 L607.3,408.1 L609.2,408.7 L611.1,409.3 L613.1,409.9 L615.0,410.5 L616.9,411.1 L618.8,411.8 L620.7,412.4 L622.6,413.0 L624.4,413.7 L626.3,414.3 L628.2,414.9 L630.1,415.6 L632.0,416.2 L633.9,416.8 L635.8,417.5 L637.7,418.1 L639.6,418.7 L641.5,419.3 L643.4,420.0 L645.3,420.6 L647.3,421.2 L649.2,421.8 L651.1,422.3 L653.0,422.9 L654.9,423.5 L656.8,424.1 L658.8,424.6 L660.7,425.2 L662.6,425.7 L664.5,426.2 L666.5,426.7 L668.4,427.2 L670.3,427.7 L672.3,428.2 L674.2,428.7 L676.2,429.1 L678.1,429.6 L680.1,430.0 L682.0,430.4 L684.0,430.8" stroke="#7030A0"/>
<path d="M42.9,427.7 L43.7,430.0 L44.7,432.1 L45.8,434.1 L47.1,435.8 L48.4,437.3 L49.9,438.5 L51.4,439.5 L53.1,440.2 L54.7,440.6 L56.5,440.8 L58.3,440.8 L60.1,440.6 L62.0,440.2 L63.9,439.7 L65.8,439.1 L67.8,438.4 L69.7,437.7 L71.7,436.9 L73.7,436.2 L75.7,435.5 L77.7,434.8 L79.6,434.2 L81.6,433.6 L83.6,433.1 L85.5,432.6 L87.5,432.1 L89.5,431.6 L91.4,431.2 L93.4,430.8 L95.3,430.4 L97.3,430.1 L99.2,429.7 L101.1,429.4 L103.1,429.0 L105.0,428.7 L107.0,428.3 L108.9,427.9 L110.8,427.6 L112.7,427.2 L114.7,426.8 L116.6,426.4 L118.5,425.9 L120.5,425.4 L122.4,424.9 L124.3,424.4 L126.2,423.8 L128.1,423.2 L130.0,422.6 L131.9,422.0 L133.8,421.3 L135.7,420.6 L137.6,419.8 L139.5,419.0 L141.3,418.2 L143.2,417.4 L145.0,416.5 L146.8,415.7 L148.6,414.7 L150.4,413.8 L152.2,412.8 L154.0,411.8 L155.7,410.8 L157.4,409.8 L159.1,408.7 L160.8,407.6 L162.4,406.5 L164.1,405.3 L165.7,404.1 L167.3,402.9 L168.9,401.7 L170.4,400.5 L172.0,399.2 L173.5,397.9 L175.0,396.6 L176.5,395.3 L178.0,394.0 L179.5,392.6 L180.9,391.3 L182.4,389.9 L183.8,388.5 L185.2,387.1 L186.6,385.7 L188.0,384.2 L189.4,382.8 L190.7,381.3 L192.1,379.8 L193.4,378.4 L194.8,376.9 L196.1,375.4 L197.4,373.9 L198.7,372.4 L200.0,370.8 L201.3,369.3 L202.6,367.8 L203.9,366.2 L205.1,364.7 L206.4,363.1 L207.7,361.5 L208.9,359.9 L210.1,358.4 L211.3,356.8 L212.6,355.2 L213.8,353.6 L215.0,352.0 L216.2,350.4 L217.4,348.7 L218.6,347.1 L219.7,345.5 L220.9,343.9 L222.1,342.2 L223.2,340.6 L224.4,338.9 L225.6,337.3 L226.7,335.6 L227.8,334.0 L229.0,332.3 L230.1,330.6 L231.2,329.0 L232.4,327.3 L233.5,325.6 L234.6,324.0 L235.7,322.3 L236.9,320.6 L238.0,319.0 L239.1,317.3 L240.2,315.6 L241.3,313.9 L242.4,312.3 L243.5,310.6 L244.6,308.9 L245.7,307.2 L246.8,305.6 L247.9,303.9 L249.0,302.2 L250.1,300.5 L251.2,298.9 L252.3,297.2 L253.4,295.5 L254.5,293.9 L255.6,292.2 L256.7,290.6 L257.8,288.9 L258.9,287.3 L260.1,285.6 L261.2,284.0 L262.4,282.4 L263.6,280.8 L264.8,279.2 L266.0,277.6 L267.2,276.0 L268.4,274.4 L269.7,272.8 L271.0,271.3 L272.3,269.7 L273.7,268.2 L275.0,266.7 L276.5,265.2 L277.9,263.8 L279.5,262.5 L281.0,261.3 L282.7,260.2 L284.4,259.3 L286.3,258.5 L288.1,257.8 L290.1,257.3 L292.1,256.9 L294.1,256.6 L296.1,256.5 L298.2,256.5 L300.2,256.6 L302.2,256.9 L304.1,257.3 L306.0,257.8 L307.8,258.5 L309.6,259.2 L311.3,260.1 L313.0,261.0 L314.7,262.0 L316.3,263.2 L317.8,264.4 L319.4,265.6 L320.9,267.0 L322.4,268.3 L323.8,269.8 L325.2,271.2 L326.6,272.7 L328.0,274.3 L329.4,275.8 L330.7,277.4 L332.1,278.9 L333.4,280.5 L334.7,282.0 L336.1,283.6 L337.4,285.1 L338.7,286.7 L340.0,288.2 L341.3,289.7 L342.6,291.2 L343.9,292.8 L345.2,294.3 L346.5,295.8 L347.8,297.3 L349.0,298.8 L350.3,300.3 L351.6,301.9 L352.9,303.4 L354.1,304.9 L355.4,306.4 L356.7,307.9 L357.9,309.5 L359.2,311.0 L360.4,312.5 L361.7,314.1 L362.9,315.6 L364.2,317.2 L365.4,318.7 L366.7,320.3 L367.9,321.8 L369.2,323.4 L370.4,325.0 L371.7,326.6 L372.9,328.2 L374.2,329.7 L375.4,331.3 L376.7,332.9 L378.0,334.4 L379.3,336.0 L380.6,337.5 L381.9,339.0 L383.2,340.6 L384.6,342.0 L386.0,343.5 L387.3,344.9 L388.8,346.4 L390.2,347.8 L391.6,349.1 L393.1,350.5 L394.6,351.8 L396.1,353.0 L397.7,354.3 L399.3,355.5 L400.9,356.6 L402.5,357.7 L404.2,358.8 L405.9,359.8 L407.6,360.9 L409.4,361.8 L411.1,362.8 L412.9,363.7 L414.7,364.6 L416.5,365.5 L418.4,366.3 L420.2,367.2 L422.0,368.0 L423.9,368.8 L425.7,369.6 L427.6,370.4 L429.4,371.2 L431.3,371.9 L433.2,372.7 L435.0,373.4 L436.9,374.2 L438.8,374.9 L440.7,375.6 L442.5,376.3 L444.4,377.0 L446.3,377.6 L448.2,378.3 L450.1,379.0 L452.0,379.6 L453.9,380.2 L455.8,380.8 L457.7,381.4 L459.6,382.0 L461.5,382.6 L463.4,383.1 L465.4,383.7 L467.3,384.2 L469.2,384.8 L471.1,385.3 L473.1,385.8 L475.0,386.3 L477.0,386.7 L478.9,387.2 L480.8,387.7 L482.8,388.1 L484.7,388.6 L486.7,389.0 L488.6,389.5 L490.6,389.9 L492.5,390.3 L494.5,390.7 L496.5,391.1 L498.4,391.5 L500.4,391.9 L502.4,392.3 L504.3,392.7 L506.3,393.0 L508.3,393.4 L510.2,393.8 L512.2,394.1 L514.2,394.5 L516.1,394.9 L518.1,395.2 L520.1,395.6 L522.1,395.9 L524.1,396.2 L526.0,396.6 L528.0,396.9 L530.0,397.3 L532.0,397.6 L533.9,397.9 L535.9,398.3 L537.9,398.6 L539.9,399.0 L541.9,399.3 L543.8,399.6 L545.8,400.0 L547.8,400.3 L549.8,400.7 L551.7,401.0 L553.7,401.4 L555.7,401.7 L557.7,402.1 L559.6,402.5 L561.6,402.8 L563.6,403.2 L565.6,403.6 L567.5,404.0 L569.5,404.3 L571.5,404.7 L573.4,405.1 L575.4,405.5 L577.3,406.0 L579.3,406.4 L581.3,406.8 L583.2,407.2 L585.2,407.7 L587.1,408.1 L589.1,408.6 L591.0,409.1 L593.0,409.5 L594.9,410.0 L596.8,410.5 L598.8,411.0 L600.7,411.5 L602.7,412.1 L604.6,412.6 L606.5,413.1 L608.4,413.6 L610.4,414.2 L612.3,414.7 L614.2,415.3 L616.2,415.8 L618.1,416.4 L620.0,416.9 L621.9,417.5 L623.9,418.0 L625.8,418.6 L627.7,419.2 L629.6,419.7 L631.6,420.3 L633.5,420.8 L635.4,421.4 L637.3,422.0 L639.3,422.5 L641.2,423.1 L643.1,423.6 L645.0,424.2 L647.0,424.7 L648.9,425.2 L650.8,425.8 L652.8,426.3 L654.7,426.8 L656.6,427.3 L658.6,427.8 L660.5,428.3 L662.5,428.8 L664.4,429.3 L666.4,429.8 L668.3,430.2 L670.3,430.7 L672.2,431.1 L674.2,431.6 L676.1,432.0 L678.1,432.4 L680.1,432.8 L682.0,433.2 L684.0,433.6" stroke="#9E480E"/>
</g>
<g stroke="#000" fill="none">
<line x1="41.2" y1="0" x2="41.2" y2="477.6" stroke-width="2.6"/>
<line x1="39.9" y1="1.65" x2="685" y2="1.65" stroke-width="2.4"/>
<line x1="683.3" y1="0" x2="683.3" y2="474.1" stroke-width="2.4"/>
<line x1="39.9" y1="472.8" x2="685" y2="472.8" stroke-width="2.6"/>
<line x1="187.2" y1="472.8" x2="187.2" y2="477.6" stroke-width="2.4"/>
<line x1="333.3" y1="472.8" x2="333.3" y2="477.6" stroke-width="2.4"/>
<line x1="479.4" y1="472.8" x2="479.4" y2="477.6" stroke-width="2.4"/>
<line x1="625.4" y1="472.8" x2="625.4" y2="477.6" stroke-width="2.4"/>
</g>
<g font-family='"Liberation Serif", serif' font-weight="bold" font-size="15.6" text-anchor="middle" fill="#000">
<text x="41.2" y="495.6">320</text>
<text x="187.2" y="495.6">370</text>
<text x="333.3" y="495.6">420</text>
<text x="479.4" y="495.6">470</text>
<text x="625.4" y="495.6">520</text>
</g>
<text x="344" y="536.3" font-family='"Liberation Serif", serif' font-weight="bold" font-size="17.4" text-anchor="middle">Wavelength (nm)</text>
<text transform="translate(14.2,223.3) rotate(-90)" font-family='"Liberation Serif", serif' font-weight="bold" font-size="19.9" text-anchor="middle">Fluorescence intensity (a.u.)</text>
<text x="112.7" y="107.7" font-family='"Liberation Serif", serif' font-weight="bold" font-size="22.5" text-anchor="middle">0</text>
<rect x="111" y="116.6" width="6.6" height="133" fill="#7030A0"/>
<polygon points="104,248.7 124.6,248.7 114.3,269.3" fill="#7030A0"/>
<text transform="translate(93.2,180.5) rotate(-90)" font-family='"Liberation Serif", serif' font-weight="bold" font-size="17.1" text-anchor="middle">Deferiprone</text>
<text x="77.6" y="289.8" font-family='"Liberation Serif", serif' font-weight="bold" font-size="19.8">1.0 mg.L<tspan font-size="13.5" dy="-6.4" dx="-0.4">-1</tspan></text>
<rect x="433.3" y="18.7" width="234.7" height="142.5" fill="#fff" stroke="none"/>
<g stroke="#000" fill="none" stroke-width="2.2">
<rect x="433.3" y="18.7" width="234.7" height="142.5"/>
<line x1="429" y1="161.2" x2="433.3" y2="161.2" stroke-width="1.4"/>
<line x1="429" y1="125.6" x2="433.3" y2="125.6" stroke-width="1.4"/>
<line x1="429" y1="89.9" x2="433.3" y2="89.9" stroke-width="1.4"/>
<line x1="429" y1="54.3" x2="433.3" y2="54.3" stroke-width="1.4"/>
<line x1="429" y1="18.7" x2="433.3" y2="18.7" stroke-width="1.4"/>
<line x1="433.3" y1="161.2" x2="433.3" y2="165.9" stroke-width="1.4"/>
<line x1="511.5" y1="161.2" x2="511.5" y2="165.9" stroke-width="1.4"/>
<line x1="589.8" y1="161.2" x2="589.8" y2="165.9" stroke-width="1.4"/>
<line x1="668.0" y1="161.2" x2="668.0" y2="165.9" stroke-width="1.4"/>
</g>
<g font-family='"Liberation Serif", serif' font-weight="bold" font-size="14.6" text-anchor="end">
<text x="421.2" y="166.2">0</text>
<text x="421.2" y="130.6">100</text>
<text x="421.2" y="94.9">200</text>
<text x="421.2" y="59.3">300</text>
<text x="421.2" y="23.7">400</text>
</g>
<g font-family='"Liberation Serif", serif' font-weight="bold" font-size="16.8" text-anchor="middle">
<text x="433.3" y="187">0</text>
<text x="511.5" y="187">0.4</text>
<text x="589.8" y="187">0.8</text>
<text x="668.0" y="187">1.2</text>
</g>
<text x="537" y="205.2" font-family='"Liberation Serif", serif' font-weight="bold" font-size="13" text-anchor="middle">Concentration (mg.L<tspan font-size="9" dy="-4">−</tspan><tspan dy="4">¹)</tspan></text>
<text transform="translate(391,88.7) rotate(-90)" font-family='"Liberation Serif", serif' font-weight="bold" font-style="italic" font-size="15" text-anchor="middle">ΔF</text>
<g font-family='"Liberation Serif", serif' font-weight="bold" font-size="14.3" text-anchor="middle">
<text x="501.7" y="42.5">y = 274.57x + 53.122</text>
<text x="501.5" y="57.6">R² = 0.9918</text>
</g>
<g stroke="#7030A0" stroke-width="2">
<line x1="436.6" y1="137.9" x2="436.6" y2="152.1"/>
<line x1="434.7" y1="137.9" x2="438.5" y2="137.9" stroke-width="2.2"/>
<line x1="434.7" y1="152.1" x2="438.5" y2="152.1" stroke-width="2.2"/>
<line x1="444.4" y1="131.8" x2="444.4" y2="142.5"/>
<line x1="442.5" y1="131.8" x2="446.3" y2="131.8" stroke-width="2.2"/>
<line x1="442.5" y1="142.5" x2="446.3" y2="142.5" stroke-width="2.2"/>
<line x1="472.4" y1="114.0" x2="472.4" y2="126.5"/>
<line x1="470.5" y1="114.0" x2="474.3" y2="114.0" stroke-width="2.2"/>
<line x1="470.5" y1="126.5" x2="474.3" y2="126.5" stroke-width="2.2"/>
<line x1="531.1" y1="83.6" x2="531.1" y2="93.6"/>
<line x1="529.2" y1="83.6" x2="533.0" y2="83.6" stroke-width="2.2"/>
<line x1="529.2" y1="93.6" x2="533.0" y2="93.6" stroke-width="2.2"/>
<line x1="628.9" y1="41.1" x2="628.9" y2="53.5"/>
<line x1="627.0" y1="41.1" x2="630.8" y2="41.1" stroke-width="2.2"/>
<line x1="627.0" y1="53.5" x2="630.8" y2="53.5" stroke-width="2.2"/>
</g>
<circle cx="436.6" cy="145.0" r="3.8" fill="#4472C4" stroke="#FF0000" stroke-width="1.8"/>
<circle cx="444.4" cy="137.2" r="3.8" fill="#4472C4" stroke="#FF0000" stroke-width="1.8"/>
<circle cx="472.4" cy="120.3" r="3.8" fill="#4472C4" stroke="#FF0000" stroke-width="1.8"/>
<circle cx="531.1" cy="88.6" r="3.8" fill="#4472C4" stroke="#FF0000" stroke-width="1.8"/>
<circle cx="628.9" cy="47.3" r="3.8" fill="#4472C4" stroke="#FF0000" stroke-width="1.8"/>
<line x1="436.6" y1="140.6" x2="628.9" y2="44.5" stroke="#4472C4" stroke-width="3.2" stroke-linecap="round" stroke-dasharray="0 6.18" stroke-dashoffset="0.2"/>
</svg>
</body></html>
